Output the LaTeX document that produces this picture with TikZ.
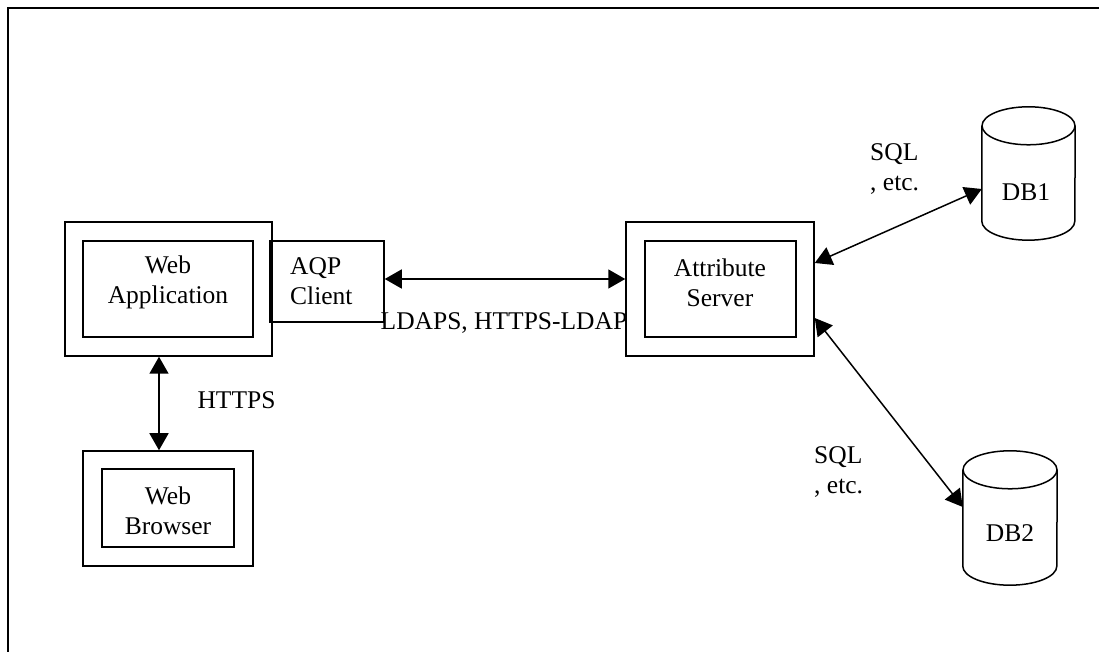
\documentclass[tikz,border=0pt]{standalone}
\usepackage{fontspec}
\setmainfont{Liberation Serif}
\usetikzlibrary{arrows.meta}
\begin{document}
\begin{tikzpicture}[x=1pt,y=1pt,
  box/.style={draw,line width=1.5pt,inner sep=0pt,rectangle},
  lbl/.style={inner sep=0pt,align=center,font=\fontsize{25.5}{30}\selectfont},
  dbbox/.style={inner sep=0pt,rectangle},
  arr/.style={line width=1.5pt,{Triangle[length=17pt,width=19pt]}-{Triangle[length=17pt,width=19pt]}},
  cyl/.style={line width=1.5pt}
]
\useasboundingbox (0,0) rectangle (1099,652);
% outer frame (top and left edges)
\draw[line width=2pt] (1099,644) -- (8,644) -- (8,0);

% Web application
\node[box,minimum width=207pt,minimum height=134pt] (wao) at (168.5,363) {};
\node[box,minimum width=170pt,minimum height=96pt] (wai) at (168,363) {};
\node[lbl] (watxt) at (168,369.5) {Web\\Application};
% AQP client
\node[box,minimum width=114pt,minimum height=81pt] (aqp) at (327,370.5) {};
\node[lbl,anchor=west,align=left] (aqptxt) at (290,371) {AQP\\Client};
% Attribute server
\node[box,minimum width=188pt,minimum height=134pt] (ato) at (720,363) {};
\node[box,minimum width=151pt,minimum height=96pt] (ati) at (720.5,363) {};
\node[lbl] (attxt) at (720,369.5) {Attribute\\Server};
% Web browser
\node[box,minimum width=170pt,minimum height=115pt] (bro) at (168,143.5) {};
\node[box,minimum width=132pt,minimum height=78pt] (bri) at (168,144) {};
\node[lbl] (brtxt) at (168,141.5) {Web\\Browser};

% Databases
\node[dbbox,minimum width=93pt,minimum height=133pt] (db1) at (1028.5,478.5) {};
\draw[cyl] ([yshift=-19pt]db1.north west) -- ([yshift=19pt]db1.south west)
  arc[start angle=180,end angle=360,x radius=46.5pt,y radius=19pt]
  -- ([yshift=-19pt]db1.north east);
\draw[cyl] ([yshift=-19pt]db1.north) ellipse[x radius=46.5pt,y radius=19pt];
\node[lbl] (db1txt) at (1026,460) {DB1};

\node[dbbox,minimum width=94pt,minimum height=134pt] (db2) at (1010,134) {};
\draw[cyl] ([yshift=-19pt]db2.north west) -- ([yshift=19pt]db2.south west)
  arc[start angle=180,end angle=360,x radius=47pt,y radius=19pt]
  -- ([yshift=-19pt]db2.north east);
\draw[cyl] ([yshift=-19pt]db2.north) ellipse[x radius=47pt,y radius=19pt];
\node[lbl] (db2txt) at (1010,119) {DB2};

% connectors
\draw[arr] (aqp.east |- 0,373) -- (ato.west |- 0,373);
\draw[arr] (wao.south -| 159,0) -- (bro.north -| 159,0);
\draw[arr] (ato.east |- 0,389) -- (db1.west |- 0,463);
\draw[arr] (ato.east |- 0,334) -- (db2.west |- 0,145);

% labels
\node[lbl] (https) at (236.5,252) {HTTPS};
\node[lbl] (ldaps) at (504,329) {LDAPS, HTTPS-LDAP};
\node[lbl,anchor=west,align=left] (sql1) at (870,483) {SQL\\, etc.};
\node[lbl,anchor=west,align=left] (sql2) at (814,180) {SQL\\, etc.};
\end{tikzpicture}
\end{document}
